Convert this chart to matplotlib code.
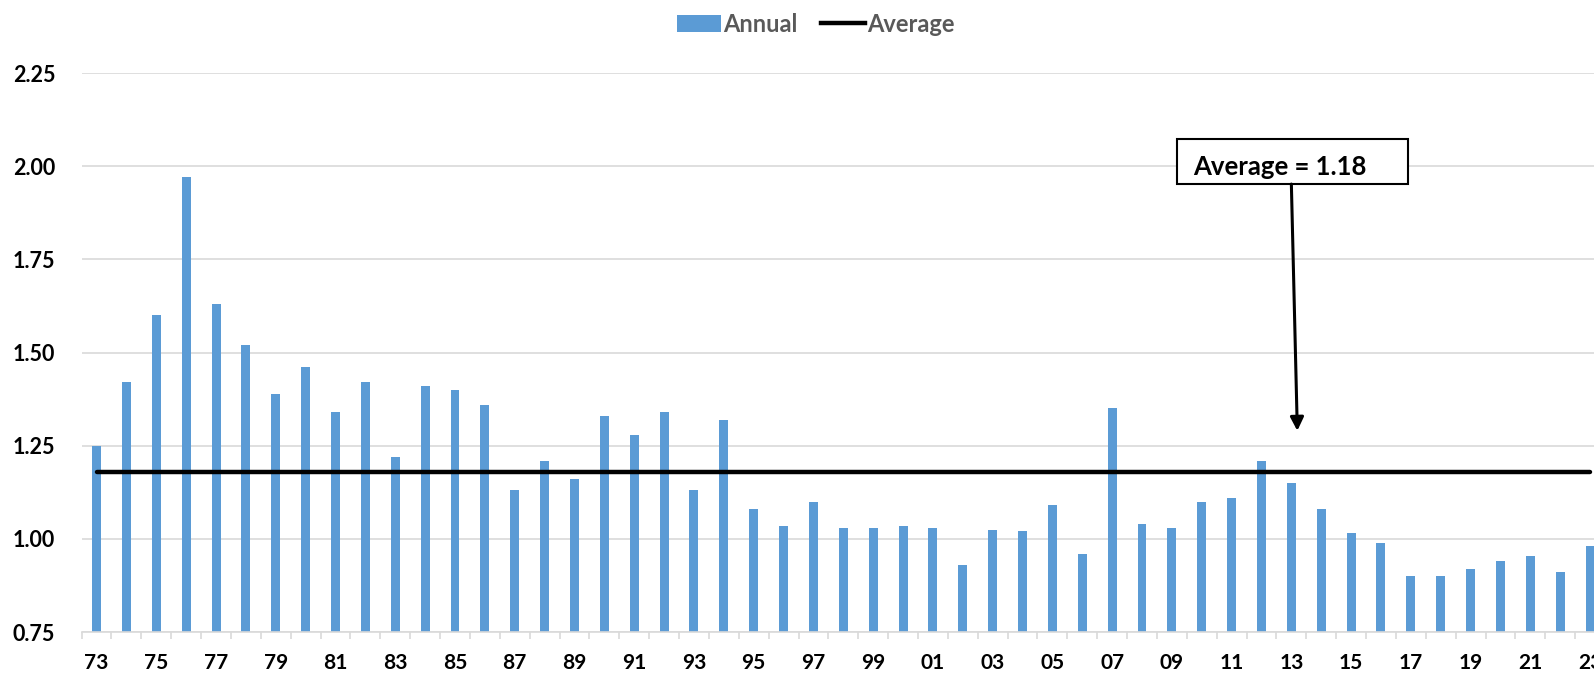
import matplotlib.pyplot as plt
from matplotlib.patches import Patch, Rectangle
from matplotlib.lines import Line2D
import numpy as np

# years 1973..2023, labelled with two digits
years = ['73', '74', '75', '76', '77', '78', '79', '80', '81', '82', '83', '84', '85',
         '86', '87', '88', '89', '90', '91', '92', '93', '94', '95', '96', '97', '98',
         '99', '00', '01', '02', '03', '04', '05', '06', '07', '08', '09', '10', '11',
         '12', '13', '14', '15', '16', '17', '18', '19', '20', '21', '22', '23']
annual = [1.25, 1.42, 1.60, 1.97, 1.63, 1.52, 1.39, 1.46, 1.34, 1.42, 1.22, 1.41, 1.40,
          1.36, 1.13, 1.21, 1.16, 1.33, 1.28, 1.34, 1.13, 1.32, 1.08, 1.035, 1.10, 1.03,
          1.03, 1.035, 1.03, 0.93, 1.025, 1.02, 1.09, 0.96, 1.35, 1.04, 1.03, 1.10, 1.11,
          1.21, 1.15, 1.08, 1.015, 0.99, 0.90, 0.90, 0.92, 0.94, 0.955, 0.91, 0.98]
average = 1.18
yticks = [0.75, 1.00, 1.25, 1.50, 1.75, 2.00, 2.25]

plt.rcParams['font.family'] = ['Lato', 'DejaVu Sans']

fig = plt.figure(figsize=(15.94, 6.73), dpi=100)
ax = fig.add_axes([0.0512, 0.0609, 0.9557, 0.8306])

x = np.arange(len(years))
ax.bar(x, annual, width=0.3, color='#5B9BD5', zorder=2)
ax.plot(x, [average] * len(x), color='black', lw=3.2, solid_capstyle='round', zorder=3)

ax.set_xlim(-0.5, len(years) - 0.5)
ax.set_ylim(0.75, 2.25)
ax.set_yticks(yticks)
ax.set_yticklabels(['%.2f' % v for v in yticks])
ax.yaxis.grid(True, color='#d9d9d9', lw=1.2, zorder=0)
ax.tick_params(axis='y', length=0, pad=19, labelsize=15.5)
for lab in ax.get_yticklabels():
    lab.set_fontweight('bold')

# labels on every other year, small ticks at category boundaries
ax.set_xticks(x[::2])
ax.set_xticklabels(years[::2], fontsize=15, fontweight='bold')
ax.set_xticks(np.arange(len(years) + 1) - 0.5, minor=True)
ax.tick_params(axis='x', which='major', length=0, pad=15)
ax.tick_params(axis='x', which='minor', length=5, color='#d9d9d9', width=1.2)

for s in ['top', 'right', 'left']:
    ax.spines[s].set_visible(False)
ax.spines['bottom'].set_color('#d9d9d9')
ax.spines['bottom'].set_linewidth(1.2)

# callout box and arrow
ax.add_patch(Rectangle((36.16, 1.952), 7.74, 0.121, facecolor='white',
                       edgecolor='black', lw=1.5, zorder=4))
ax.text(36.7, 1.976, 'Average = 1.18', fontsize=18.5, fontweight='bold',
        ha='left', va='baseline', zorder=5)
ax.annotate('', xy=(40.2, 1.29), xytext=(40.0, 1.952),
            arrowprops=dict(arrowstyle='-|>', color='black', lw=2.2,
                            mutation_scale=20, shrinkA=0, shrinkB=0), zorder=5)

handles = [Patch(facecolor='#5B9BD5'), Line2D([0], [0], color='black', lw=3.2)]
leg = fig.legend(handles, ['Annual', 'Average'], loc='center', ncol=2,
                 bbox_to_anchor=(0.512, 0.964), frameon=False, handlelength=1.85,
                 handletextpad=0.1, columnspacing=1.0,
                 prop={'weight': 'bold', 'size': 17})
for t in leg.get_texts():
    t.set_color('#595959')

fig.savefig('out.png', dpi=100)
